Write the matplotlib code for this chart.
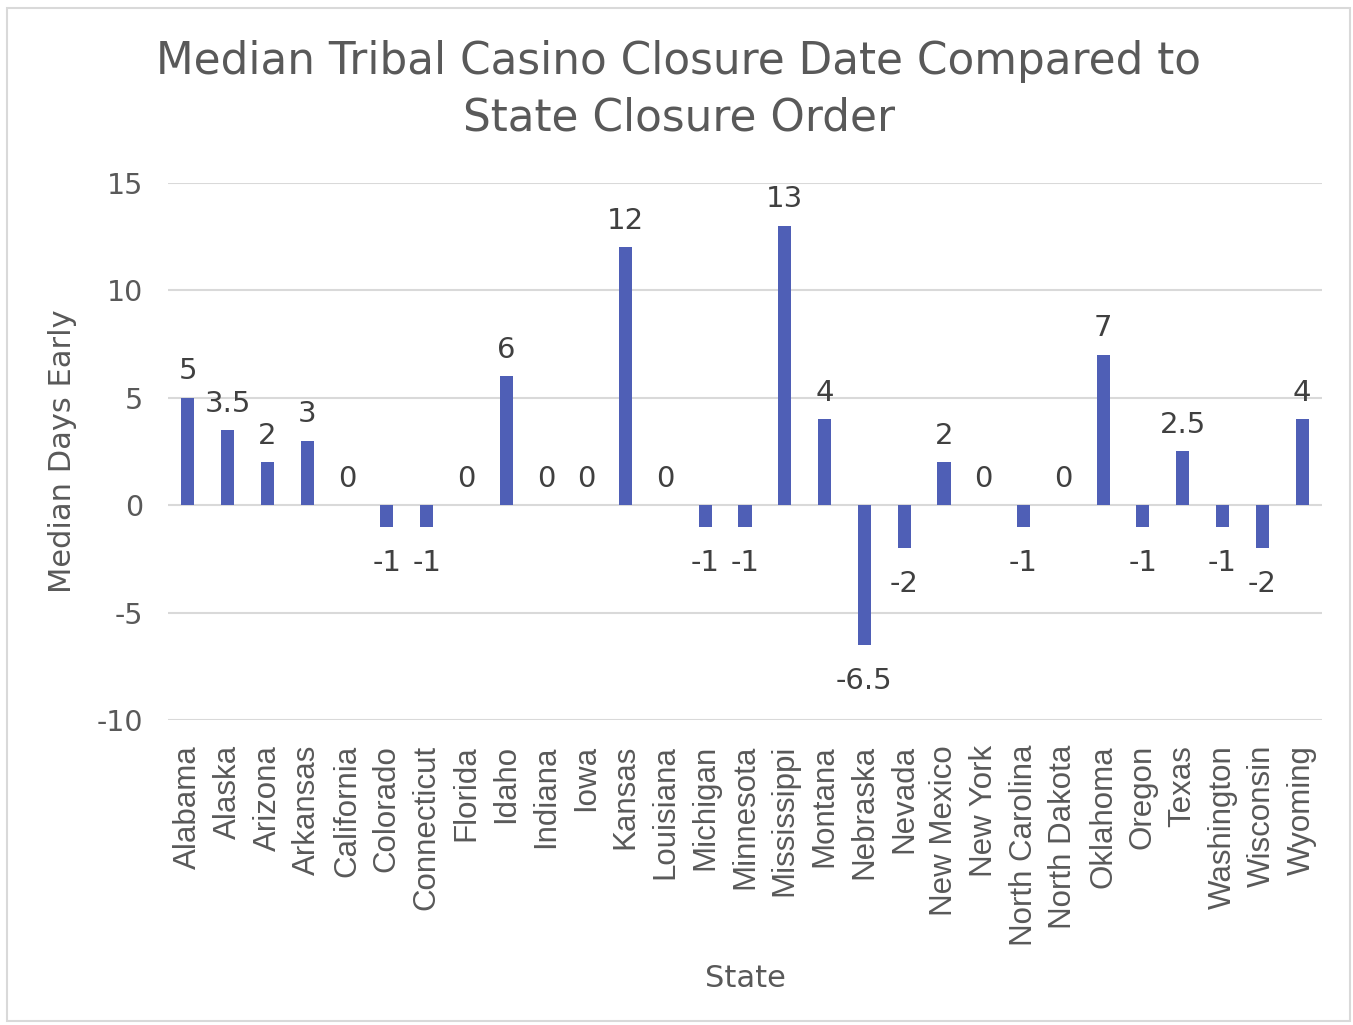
import matplotlib.pyplot as plt
from matplotlib.patches import Rectangle

states = ["Alabama", "Alaska", "Arizona", "Arkansas", "California", "Colorado",
          "Connecticut", "Florida", "Idaho", "Indiana", "Iowa", "Kansas",
          "Louisiana", "Michigan", "Minnesota", "Mississippi", "Montana",
          "Nebraska", "Nevada", "New Mexico", "New York", "North Carolina",
          "North Dakota", "Oklahoma", "Oregon", "Texas", "Washington",
          "Wisconsin", "Wyoming"]
days_early = [5, 3.5, 2, 3, 0, -1, -1, 0, 6, 0, 0, 12, 0, -1, -1, 13, 4,
              -6.5, -2, 2, 0, -1, 0, 7, -1, 2.5, -1, -2, 4]
y_ticks = [-10, -5, 0, 5, 10, 15]

bar_color = "#4F5FB6"
text_gray = "#595959"
label_gray = "#404040"

fig = plt.figure(figsize=(13.53, 10.25), dpi=100)
ax = fig.add_axes([168 / 1353, 1 - 720 / 1025, (1322 - 168) / 1353, (720 - 183) / 1025])

# outer chart border
fig.patches.append(Rectangle((7 / 1353, 4 / 1025), (1350 - 7) / 1353, (1019 - 6) / 1025,
                             transform=fig.transFigure, fill=False,
                             edgecolor="#D9D9D9", linewidth=1.5))

x = range(len(states))
ax.bar(x, days_early, width=0.33, color=bar_color, zorder=3)

for xi, v in zip(x, days_early):
    label = f"{v:g}"
    if v >= 0:
        ax.annotate(label, (xi, v), xytext=(0, 9), textcoords="offset points",
                    ha="center", va="bottom", fontsize=21, color=label_gray)
    else:
        ax.annotate(label, (xi, v), xytext=(0, -16), textcoords="offset points",
                    ha="center", va="top", fontsize=21, color=label_gray)

ax.set_xlim(-0.5, len(states) - 0.5)
ax.set_ylim(-10, 15)
ax.set_yticks(y_ticks)
ax.set_yticklabels([str(t) for t in y_ticks], fontsize=20.5, color=text_gray)
ax.set_xticks(list(x))
ax.set_xticklabels(states, rotation=90, fontsize=22.5, color=text_gray,
                   family="Liberation Sans")
ax.tick_params(length=0)
ax.tick_params(axis="y", pad=18)
ax.tick_params(axis="x", pad=18)
ax.yaxis.grid(True, color="#D9D9D9", linewidth=1.5, zorder=0)
for s in ax.spines.values():
    s.set_visible(False)

ax.set_ylabel("Median Days Early", fontsize=22, color=text_gray)
ax.yaxis.set_label_coords(-0.079, 0.5)
ax.set_xlabel("State", fontsize=22, color=text_gray)
ax.xaxis.set_label_coords(0.5, -0.455)
fig.text(679 / 1353, 1 - 90 / 1025, "Median Tribal Casino Closure Date Compared to\nState Closure Order",
         ha="center", va="center", fontsize=31.5, color=text_gray, linespacing=1.4)

fig.savefig("out.png", dpi=100)
